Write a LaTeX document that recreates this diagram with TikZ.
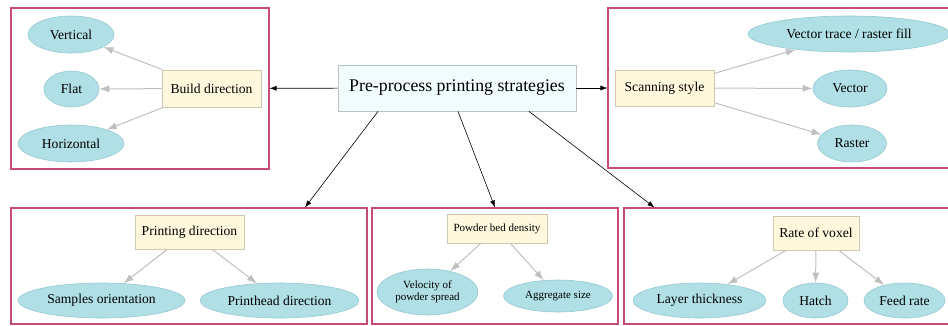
\documentclass[tikz,border=0pt]{standalone}
\usepackage{fontspec}
\setmainfont{Liberation Serif}
\usepackage{tikz}
\usetikzlibrary{shapes.geometric,arrows.meta}
\usepackage{xcolor}
\definecolor{framered}{RGB}{200,75,115}
\definecolor{leafblue}{RGB}{176,224,230}
\definecolor{leafedge}{RGB}{150,200,208}
\definecolor{boxsilk}{RGB}{255,248,220}
\definecolor{boxedge}{RGB}{205,200,178}
\definecolor{mainfill}{RGB}{240,252,254}
\definecolor{mainedge}{RGB}{185,196,198}
\definecolor{edgegray}{RGB}{192,192,192}

\begin{document}
\begin{tikzpicture}[x=1pt, y=-1pt,
      txt/.style={font=\fontsize{13.6}{15}\selectfont},
      small/.style={font=\fontsize{11}{12.5}\selectfont},
      cluster/.style={draw=framered, line width=1.1pt, inner sep=0pt},
      topic/.style={draw=mainedge, fill=mainfill, line width=0.8pt, inner sep=0pt,
                    font=\fontsize{17.8}{20}\selectfont},
      group/.style={draw=boxedge, fill=boxsilk, line width=0.8pt, inner sep=0pt},
      leaf/.style={ellipse, draw=leafedge, fill=leafblue, line width=0.6pt, inner sep=0pt, align=center},
      link/.style={-{Latex[length=7pt,width=5pt]}, line width=0.6pt},
      sub/.style={-{Latex[length=10pt,width=7pt]}, draw=edgegray, line width=1pt}]
    \useasboundingbox (0,0) rectangle (948,325);
    \clip (0,0) rectangle (948,325);

    \node[cluster, minimum width=258pt, minimum height=161pt] (fbuild)  at (140,88.5) {};
    \node[cluster, minimum width=344pt, minimum height=160pt] (fscan)   at (780,88) {};
    \node[cluster, minimum width=356pt, minimum height=116pt] (fprint)  at (189,266) {};
    \node[cluster, minimum width=246pt, minimum height=116pt] (fpowder) at (495,266) {};
    \node[cluster, minimum width=326pt, minimum height=116pt] (fvoxel)  at (787,266) {};

    \node[topic, minimum width=238pt, minimum height=46pt] (main) at (457,88) {Pre-process printing strategies};

    \node[group, txt, minimum width=99pt, minimum height=37pt]   (build)    at (211.5,88.5) {Build direction};
    \node[group, txt, minimum width=99pt, minimum height=36pt]   (scan)     at (664.5,88) {Scanning style};
    \node[group, txt, minimum width=109pt, minimum height=34pt]  (printdir) at (189.5,232) {Printing direction};
    \node[group, small, minimum width=100pt, minimum height=29pt] (powder)  at (497,228.5) {Powder bed density};
    \node[group, txt, minimum width=86pt, minimum height=34pt]   (voxel)    at (816,233) {Rate of voxel};

    \node[leaf, txt, minimum width=86pt, minimum height=37pt]  (vertical)   at (71,34.5) {Vertical};
    \node[leaf, txt, minimum width=55pt, minimum height=36pt]  (flat)       at (71.5,89) {Flat};
    \node[leaf, txt, minimum width=106pt, minimum height=37pt] (horizontal) at (71,143.5) {Horizontal};

    \node[leaf, txt, minimum width=202pt, minimum height=36pt] (trace)  at (849,34) {Vector trace / raster fill};
    \node[leaf, txt, minimum width=74pt, minimum height=37pt]  (vector) at (850,88.5) {Vector};
    \node[leaf, txt, minimum width=69pt, minimum height=37pt]  (raster) at (852,143.5) {Raster};

    \node[leaf, txt, minimum width=167pt, minimum height=35pt] (samples)   at (101.5,300.5) {Samples orientation};
    \node[leaf, txt, minimum width=159pt, minimum height=35pt] (printhead) at (279.5,300.5) {Printhead direction};

    \node[leaf, small, minimum width=101pt, minimum height=46pt] (velocity)  at (427.5,292) {Velocity of\\powder spread};
    \node[leaf, small, minimum width=109pt, minimum height=32pt] (aggregate) at (558,296) {Aggregate size};

    \node[leaf, txt, minimum width=133pt, minimum height=35pt] (layer) at (699.5,300.5) {Layer thickness};
    \node[leaf, txt, minimum width=65pt, minimum height=35pt]  (hatch) at (815.5,300.5) {Hatch};
    \node[leaf, txt, minimum width=81pt, minimum height=35pt]  (feed)  at (904.5,300.5) {Feed rate};

    \draw[link] (main) -- (fbuild);
    \draw[link] (main) -- (fscan);
    \draw[link] ([xshift=-79pt]main.south) -- ([xshift=116pt]fprint.north);
    \draw[link] ([xshift=1pt]main.south) -- (fpowder.north);
    \draw[link] ([xshift=72pt]main.south) -- ([xshift=31pt]fvoxel.north west);

    \draw[sub] (build) -- (vertical);
    \draw[sub] (build) -- (flat);
    \draw[sub] (build) -- (horizontal);
    \draw[sub] (scan) -- (trace);
    \draw[sub] (scan) -- (vector);
    \draw[sub] (scan) -- (raster);
    \draw[sub] (printdir) -- (samples);
    \draw[sub] (printdir) -- (printhead);
    \draw[sub] (powder) -- (velocity);
    \draw[sub] (powder) -- (aggregate);
    \draw[sub] (voxel) -- (layer);
    \draw[sub] (voxel) -- (hatch);
    \draw[sub] (voxel) -- (feed);
  \end{tikzpicture}
\end{document}
